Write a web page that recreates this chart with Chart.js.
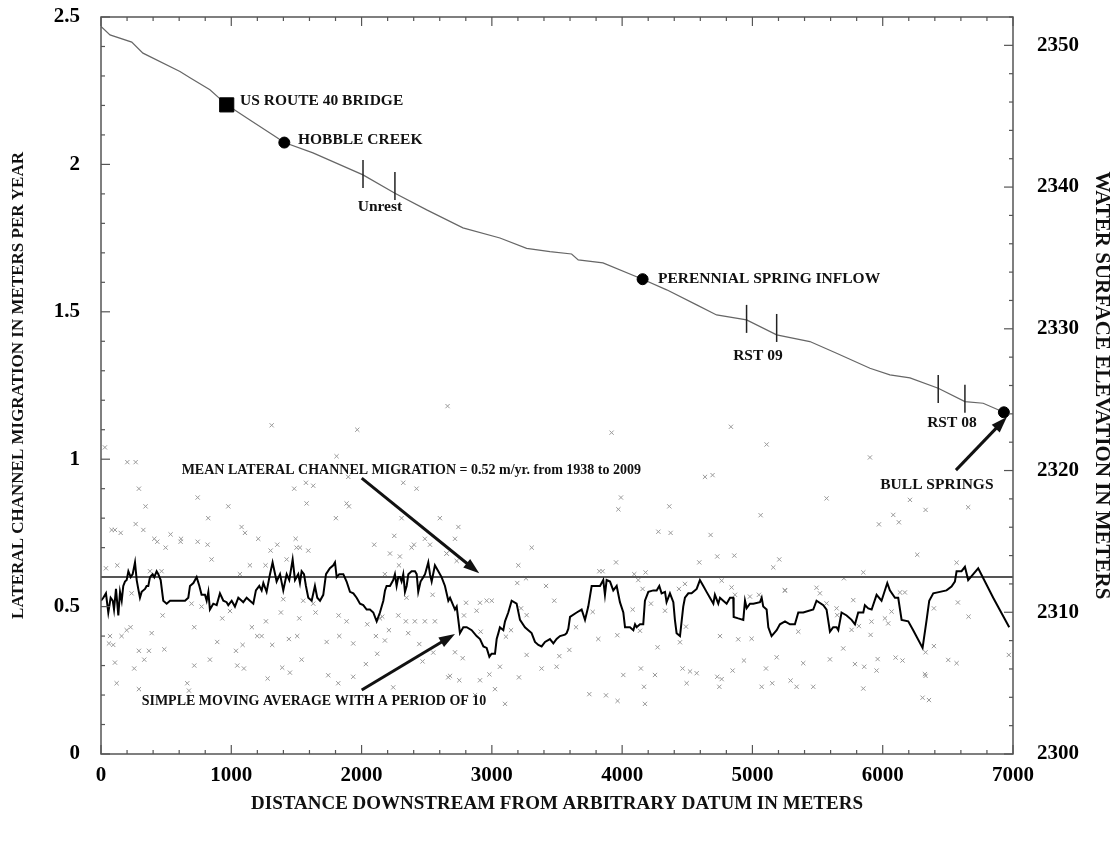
<!DOCTYPE html>
<html>
<head>
<meta charset="utf-8">
<script src="https://cdn.jsdelivr.net/npm/chart.js@4.4.1/dist/chart.umd.min.js"></script>
<style>
  body { margin: 0; background: #fff; }
  canvas { display: block; }
</style>
</head>
<body>
<canvas id="chart" width="1117" height="842"></canvas>
<script>
// lateral migration measurements (distance m, rate m/yr)
const migrationDist = [
  30, 202, 266, 291, 342, 82, 107, 151, 266, 325, 409, 432, 496, 534, 614, 611, 742, 742, 818, 823,
  849, 977, 1079, 1105, 1207, 1310, 1302, 1353, 1494, 1527, 1591, 1483, 1573, 1629, 1578, 1803, 1885, 1903, 1808, 1967,
  1898, 2097, 2251, 2294, 2384, 2402, 2486, 2525, 2320, 2422, 2601, 2652, 2660, 2307, 38, 125, 235, 376, 465, 1066,
  1143, 1263, 1425, 1501, 2179, 2287, 2218, 2545, 2345, 473, 227, 197, 158, 69, 61, 94, 389, 291, 368, 486,
  332, 107, 255, 120, 291, 662, 675, 716, 716, 695, 772, 836, 892, 931, 990, 1036, 1087, 1158, 1199, 1233,
  1266, 1314, 1381, 1399, 1442, 1506, 1522, 1540, 1552, 1629, 1647, 1732, 1824, 1829, 1885, 1936, 2044, 2110, 2120, 2141,
  2159, 2179, 2210, 2243, 2282, 2340, 2358, 2409, 2443, 2468, 2486, 2550, 2563, 2665, 1046, 1097, 1391, 1450, 1279, 1821,
  1744, 1936, 2033,
  3919, 4835, 5109, 4636, 4694, 3991, 3971, 4362, 5063, 4278, 4372, 4679, 2743, 2717, 2653, 2730, 3306, 3953, 3203, 3195,
  3262, 3416, 3479, 3825, 3850, 4093, 4180, 4124, 4157, 4081, 4221, 4329, 4436, 4482, 4592, 4730, 4861, 4764, 4840, 4866,
  4981, 5206, 5160, 5250, 2802, 2909, 2960, 2999, 2883, 2786, 2914, 3108, 3147, 3224, 3267, 3646, 3774, 3595, 3518, 3497,
  3382, 3267, 3208, 3062, 2981, 3024, 2909, 2871, 2750, 2679, 2776, 2717, 3101, 3748, 3876, 3965, 4175, 4168, 4009, 4144,
  4252, 4272, 3817, 3963, 4137, 4490, 4444, 4464, 4521, 4572, 4495, 4730, 4764, 4746, 4751, 4848, 4891, 4935, 4994, 5071,
  5104, 5152, 5050, 5186,
  5902, 5569, 6209, 6329, 6081, 6124, 5971, 6656, 6265, 5851, 6567, 5702, 5249, 5492, 5518, 5569, 5646, 5651, 5774, 5817,
  5761, 6068, 6017, 6042, 6132, 6170, 5914, 5907, 6577, 6659, 6393, 5352, 5697, 5595, 5787, 5858, 5961, 5953, 6099, 6152,
  5390, 5293, 5339, 5467, 5851, 6329, 6393, 6503, 6567, 6324, 6329, 6306, 6355, 6968
];
const migrationRate = [
  1.04, 0.99, 0.99, 0.90, 0.84, 0.76, 0.76, 0.75, 0.78, 0.76, 0.73, 0.72, 0.70, 0.745, 0.73, 0.72, 0.72, 0.87, 0.71, 0.80,
  0.66, 0.84, 0.77, 0.75, 0.73, 1.115, 0.69, 0.71, 0.73, 0.70, 0.69, 0.90, 0.92, 0.91, 0.85, 0.80, 0.85, 0.84, 1.01, 1.10,
  0.94, 0.71, 0.74, 0.67, 0.70, 0.71, 0.73, 0.71, 0.92, 0.90, 0.80, 0.68, 1.18, 0.80, 0.63, 0.64, 0.545, 0.62, 0.62, 0.61,
  0.64, 0.64, 0.66, 0.70, 0.61, 0.64, 0.68, 0.54, 0.53, 0.47, 0.43, 0.42, 0.40, 0.40, 0.375, 0.37, 0.41, 0.35, 0.35, 0.355,
  0.32, 0.31, 0.29, 0.24, 0.22, 0.24, 0.215, 0.30, 0.43, 0.51, 0.50, 0.32, 0.38, 0.46, 0.485, 0.35, 0.37, 0.43, 0.40, 0.40,
  0.45, 0.37, 0.48, 0.525, 0.39, 0.40, 0.46, 0.32, 0.52, 0.51, 0.48, 0.38, 0.47, 0.40, 0.45, 0.375, 0.44, 0.40, 0.34, 0.46,
  0.466, 0.385, 0.42, 0.226, 0.47, 0.45, 0.41, 0.45, 0.373, 0.314, 0.45, 0.344, 0.45, 0.26, 0.30, 0.29, 0.293, 0.276, 0.256, 0.24,
  0.267, 0.262, 0.305,
  1.09, 1.11, 1.05, 0.94, 0.946, 0.87, 0.83, 0.84, 0.81, 0.754, 0.75, 0.743, 0.77, 0.73, 0.68, 0.655, 0.70, 0.65, 0.64, 0.58,
  0.596, 0.57, 0.52, 0.62, 0.62, 0.61, 0.616, 0.59, 0.56, 0.49, 0.51, 0.486, 0.56, 0.577, 0.65, 0.67, 0.673, 0.588, 0.565, 0.54,
  0.534, 0.66, 0.633, 0.554, 0.513, 0.513, 0.52, 0.52, 0.486, 0.47, 0.415, 0.398, 0.42, 0.494, 0.471, 0.43, 0.482, 0.353, 0.332, 0.296,
  0.29, 0.336, 0.26, 0.296, 0.27, 0.22, 0.25, 0.20, 0.25, 0.265, 0.325, 0.345, 0.17, 0.203, 0.199, 0.18, 0.17, 0.228, 0.268, 0.29,
  0.268, 0.362, 0.39, 0.403, 0.418, 0.432, 0.379, 0.29, 0.28, 0.274, 0.24, 0.262, 0.254, 0.228, 0.40, 0.283, 0.389, 0.317, 0.391, 0.228,
  0.29, 0.24, 0.54, 0.328,
  1.006, 0.867, 0.862, 0.828, 0.811, 0.786, 0.779, 0.837, 0.676, 0.616, 0.649, 0.596, 0.556, 0.564, 0.545, 0.511, 0.494, 0.471, 0.522, 0.434,
  0.421, 0.483, 0.46, 0.443, 0.548, 0.548, 0.449, 0.404, 0.514, 0.466, 0.494, 0.415, 0.358, 0.321, 0.305, 0.296, 0.322, 0.283, 0.327, 0.317,
  0.308, 0.249, 0.228, 0.228, 0.222, 0.345, 0.366, 0.319, 0.308, 0.271, 0.265, 0.191, 0.183, 0.336
];

// simple moving average, period 10
const maDist = [
  0, 18, 38, 56, 74, 90, 100, 115, 133, 146, 159, 171, 184, 197, 210, 228, 243, 261, 274, 286,
  299, 312, 338, 350, 363, 376, 396, 409, 427, 440, 458, 478, 504, 530, 555, 593, 645, 670, 683, 709,
  734, 755, 772, 798, 811, 824, 836, 862, 888, 913, 939, 964, 977, 1003, 1028, 1054, 1080, 1092, 1118, 1143,
  1169, 1189, 1215, 1233, 1246, 1271, 1297, 1317, 1348, 1374, 1399, 1425, 1445, 1471, 1489, 1514, 1527, 1540, 1558, 1573,
  1591, 1617, 1642, 1660, 1681, 1706, 1727, 1757, 1783, 1796, 1809, 1829, 1860, 1885, 1911, 1937, 1962, 1988, 2013, 2039,
  2064, 2090, 2116, 2141, 2167, 2180, 2192, 2218, 2243, 2256, 2269, 2282, 2295, 2307, 2320, 2333, 2346, 2359, 2384, 2410,
  2423, 2435, 2453, 2474, 2487, 2512, 2525, 2538, 2563, 2589, 2614, 2640, 2666, 2679, 2717, 2730, 2755, 2781, 2807, 2845,
  2883, 2909, 2935, 2960, 2981, 2998, 3024, 3037, 3050, 3062, 3088, 3101, 3126, 3152, 3190, 3216, 3254, 3280, 3305, 3331,
  3357, 3382, 3408, 3446, 3472, 3497, 3523, 3561, 3574, 3587, 3600, 3651, 3689, 3715, 3740, 3766, 3804, 3830, 3855, 3868,
  3881, 3907, 3932, 3958, 3983, 4009, 4022, 4060, 4086, 4099, 4111, 4137, 4162, 4175, 4201, 4239, 4265, 4285, 4303, 4329,
  4341, 4367, 4393, 4405, 4418, 4444, 4469, 4482, 4508, 4533, 4572, 4597, 4623, 4648, 4674, 4700, 4712, 4738, 4751, 4776,
  4802, 4828, 4853, 4856, 4891, 4930, 4943, 4956, 4981, 5007, 5058, 5071, 5083, 5109, 5122, 5147, 5186, 5211, 5250, 5288,
  5326, 5352, 5390, 5467, 5492, 5544, 5569, 5595, 5620, 5646, 5659, 5684, 5723, 5761, 5787, 5812, 5851, 5863, 5889, 5915,
  5953, 5991, 6035, 6055, 6094, 6119, 6145, 6196, 6234, 6306, 6337, 6357, 6388, 6439, 6490, 6528, 6554, 6567, 6605, 6631,
  6656, 6695, 6733, 6848, 6971
];
const maRate = [
  0.52, 0.53, 0.545, 0.48, 0.53, 0.52, 0.49, 0.56, 0.47, 0.55, 0.52, 0.57, 0.585, 0.59, 0.62, 0.60, 0.61, 0.65, 0.59, 0.56,
  0.53, 0.55, 0.56, 0.57, 0.57, 0.60, 0.61, 0.60, 0.62, 0.61, 0.59, 0.52, 0.51, 0.52, 0.52, 0.52, 0.52, 0.53, 0.57, 0.58,
  0.60, 0.57, 0.54, 0.54, 0.52, 0.55, 0.49, 0.51, 0.505, 0.545, 0.52, 0.515, 0.505, 0.52, 0.50, 0.53, 0.52, 0.515, 0.53, 0.52,
  0.51, 0.555, 0.57, 0.555, 0.58, 0.55, 0.61, 0.65, 0.585, 0.61, 0.555, 0.61, 0.59, 0.66, 0.59, 0.61, 0.58, 0.62, 0.61, 0.57,
  0.53, 0.52, 0.57, 0.53, 0.52, 0.54, 0.61, 0.63, 0.64, 0.65, 0.60, 0.61, 0.61, 0.585, 0.55, 0.545, 0.53, 0.51, 0.505, 0.49,
  0.49, 0.48, 0.45, 0.48, 0.52, 0.555, 0.57, 0.57, 0.59, 0.61, 0.57, 0.60, 0.60, 0.585, 0.61, 0.55, 0.57, 0.61, 0.62, 0.62,
  0.61, 0.55, 0.585, 0.60, 0.61, 0.65, 0.61, 0.585, 0.64, 0.62, 0.60, 0.57, 0.52, 0.53, 0.49, 0.50, 0.41, 0.43, 0.43, 0.42,
  0.40, 0.39, 0.365, 0.36, 0.33, 0.34, 0.34, 0.39, 0.41, 0.43, 0.42, 0.45, 0.48, 0.52, 0.51, 0.455, 0.43, 0.42, 0.41, 0.38,
  0.37, 0.365, 0.38, 0.39, 0.375, 0.39, 0.40, 0.405, 0.41, 0.425, 0.465, 0.48, 0.49, 0.455, 0.50, 0.57, 0.57, 0.57, 0.59, 0.54,
  0.59, 0.585, 0.555, 0.57, 0.515, 0.48, 0.43, 0.43, 0.42, 0.44, 0.43, 0.44, 0.44, 0.52, 0.55, 0.555, 0.555, 0.57, 0.545, 0.55,
  0.515, 0.545, 0.515, 0.455, 0.41, 0.40, 0.50, 0.53, 0.545, 0.545, 0.56, 0.59, 0.57, 0.55, 0.53, 0.51, 0.54, 0.51, 0.53, 0.52,
  0.51, 0.53, 0.53, 0.465, 0.46, 0.455, 0.52, 0.495, 0.51, 0.51, 0.515, 0.53, 0.50, 0.49, 0.43, 0.40, 0.42, 0.44, 0.45, 0.44,
  0.44, 0.48, 0.48, 0.49, 0.52, 0.505, 0.49, 0.415, 0.43, 0.43, 0.42, 0.48, 0.47, 0.455, 0.44, 0.48, 0.48, 0.505, 0.494, 0.49,
  0.54, 0.52, 0.58, 0.555, 0.53, 0.53, 0.455, 0.45, 0.42, 0.36, 0.455, 0.52, 0.545, 0.55, 0.555, 0.568, 0.585, 0.62, 0.62, 0.635,
  0.59, 0.61, 0.63, 0.53, 0.43
];

const meanRate = 0.6;

// water surface profile (distance m, elevation m)
const elevDist = [0, 69, 236, 322, 606, 683, 836, 965, 1143, 1320, 1407, 1627, 2011, 2256, 2500, 2778, 3062, 3267, 3446, 3612,
  3663, 3853, 4157, 4342, 4572, 4725, 4955, 5186, 5441, 5646, 5902, 6055, 6209, 6426, 6631, 6771, 6930];
const elevValue = [2351.33, 2350.74, 2350.23, 2349.45, 2348.15, 2347.71, 2346.86, 2345.8, 2344.74, 2343.68, 2343.14, 2342.41,
  2340.86, 2339.57, 2338.39, 2337.12, 2336.41, 2335.68, 2335.45, 2335.28, 2334.86, 2334.65, 2333.5, 2332.75, 2331.69, 2330.98,
  2330.63, 2329.57, 2329.1, 2328.28, 2327.22, 2326.75, 2326.54, 2325.81, 2324.86, 2324.75, 2324.11];

// landmarks on the profile
const bridgeDist = [965];
const bridgeElev = [2345.8];
const springDist = [1407, 4157, 6930];
const springElev = [2343.14, 2333.5, 2324.11];
const reachDist = [2011, 2256, 4955, 5186, 6426, 6631];
const reachElev = [2340.93, 2340.08, 2330.7, 2330.06, 2325.76, 2325.07];

const xTicks = [0, 1000, 2000, 3000, 4000, 5000, 6000, 7000];

// text notes: position in (distance, rate) units
const notes = [
  { text: 'US ROUTE 40 BRIDGE', d: 1067, r: 2.215, align: 'left', size: 15.5 },
  { text: 'HOBBLE CREEK', d: 1512, r: 2.083, align: 'left', size: 15.5 },
  { text: 'Unrest', d: 2141, r: 1.855, align: 'center', size: 15.5 },
  { text: 'PERENNIAL SPRING INFLOW', d: 4275, r: 1.611, align: 'left', size: 15.5 },
  { text: 'RST 09', d: 5042, r: 1.35, align: 'center', size: 15.5 },
  { text: 'RST 08', d: 6531, r: 1.123, align: 'center', size: 15.5 },
  { text: 'BULL SPRINGS', d: 6416, r: 0.912, align: 'center', size: 15.5 },
  { text: 'MEAN LATERAL CHANNEL MIGRATION = 0.52 m/yr. from 1938 to 2009', d: 619, r: 0.963, align: 'left', size: 14 },
  { text: 'SIMPLE MOVING AVERAGE WITH A PERIOD OF 10', d: 312, r: 0.177, align: 'left', size: 14 }
];
const arrows = [
  { from: [6562, 0.963], to: [6953, 1.143] },
  { from: [2001, 0.936], to: [2903, 0.613] },
  { from: [2001, 0.217], to: [2717, 0.407] }
];

const pts = (xs, ys) => xs.map((x, i) => ({ x: x, y: ys[i] }));
const serif = "'Liberation Serif', 'Times New Roman', serif";

const frame = {
    id: 'frame',
    afterDatasetsDraw(chart) {
        const { ctx, chartArea: a, scales } = chart;
        ctx.save();
        ctx.strokeStyle = '#555';
        ctx.lineWidth = 1.5;
        ctx.strokeRect(a.left, a.top, a.right - a.left, a.bottom - a.top);
        ctx.lineWidth = 1.2;
        const mark = (x1, y1, x2, y2) => { ctx.beginPath(); ctx.moveTo(x1, y1); ctx.lineTo(x2, y2); ctx.stroke(); };
        for (let v = 0; v <= 7000; v += 200) {
            const x = scales.x.getPixelForValue(v);
            const len = v % 1000 === 0 ? 9 : 4;
            mark(x, a.bottom, x, a.bottom - len);
            mark(x, a.top, x, a.top + len);
        }
        for (let i = 0; i <= 25; i++) {
            const y = scales.y.getPixelForValue(i / 10);
            mark(a.left, y, a.left + (i % 5 === 0 ? 9 : 4), y);
        }
        for (let v = 2300; v <= 2352; v += 2) {
            const y = scales.y2.getPixelForValue(v);
            mark(a.right, y, a.right - (v % 10 === 0 ? 9 : 4), y);
        }

        ctx.fillStyle = '#111';
        ctx.textBaseline = 'middle';
        notes.forEach(n => {
            ctx.font = `bold ${n.size}px ${serif}`;
            ctx.textAlign = n.align;
            ctx.fillText(n.text, scales.x.getPixelForValue(n.d), scales.y.getPixelForValue(n.r));
        });

        ctx.strokeStyle = '#111';
        arrows.forEach(ar => {
            const x1 = scales.x.getPixelForValue(ar.from[0]), y1 = scales.y.getPixelForValue(ar.from[1]);
            const x2 = scales.x.getPixelForValue(ar.to[0]), y2 = scales.y.getPixelForValue(ar.to[1]);
            const ang = Math.atan2(y2 - y1, x2 - x1);
            const head = 17;
            ctx.lineWidth = 3;
            ctx.beginPath();
            ctx.moveTo(x1, y1);
            ctx.lineTo(x2 - Math.cos(ang) * head * 0.8, y2 - Math.sin(ang) * head * 0.8);
            ctx.stroke();
            ctx.beginPath();
            ctx.moveTo(x2, y2);
            ctx.lineTo(x2 - head * Math.cos(ang - 0.33), y2 - head * Math.sin(ang - 0.33));
            ctx.lineTo(x2 - head * Math.cos(ang + 0.33), y2 - head * Math.sin(ang + 0.33));
            ctx.closePath();
            ctx.fill();
        });
        ctx.restore();
    }
};

const tickFont = { family: serif, size: 21, weight: 'bold' };
// fixed box sizes so the plot area sits where the original has it
const fixBox = (w, h) => s => {
    if (w) s.width = w;
    if (h) s.height = h;
    s.paddingTop = 0; s.paddingBottom = 0; s.paddingLeft = 0; s.paddingRight = 0;
};

new Chart(document.getElementById('chart'), {
    type: 'scatter',
    data: {
        datasets: [
            {
                data: pts(bridgeDist, bridgeElev), yAxisID: 'y2',
                pointStyle: 'rect', pointRadius: 10, backgroundColor: '#000', borderColor: '#000'
            },
            {
                data: pts(springDist, springElev), yAxisID: 'y2',
                pointStyle: 'circle', pointRadius: 5.5, backgroundColor: '#000', borderColor: '#000'
            },
            {
                data: pts(reachDist, reachElev), yAxisID: 'y2',
                pointStyle: 'line', rotation: 90, pointRadius: 14, borderColor: '#222', borderWidth: 1.5
            },
            {
                data: pts(elevDist, elevValue), yAxisID: 'y2', showLine: true,
                borderColor: '#666', borderWidth: 1.2, pointRadius: 0
            },
            {
                data: pts(maDist, maRate), yAxisID: 'y', showLine: true,
                borderColor: '#000', borderWidth: 2, pointRadius: 0
            },
            {
                data: [{ x: 0, y: meanRate }, { x: 7000, y: meanRate }], yAxisID: 'y', showLine: true,
                borderColor: '#555', borderWidth: 2, pointRadius: 0
            },
            {
                data: pts(migrationDist, migrationRate), yAxisID: 'y',
                pointStyle: 'crossRot', pointRadius: 3, borderColor: '#999', borderWidth: 1
            }
        ]
    },
    options: {
        responsive: false,
        animation: false,
        layout: { padding: { top: 17, left: 0, right: 0, bottom: 0 } },
        plugins: { legend: { display: false }, tooltip: { enabled: false } },
        scales: {
            x: {
                type: 'linear', min: 0, max: 7000,
                afterFit: fixBox(0, 88),
                afterBuildTicks: s => { s.ticks = xTicks.map(v => ({ value: v })); },
                grid: { display: false, drawTicks: false },
                border: { display: false },
                ticks: { font: tickFont, color: '#000', padding: 9, maxRotation: 0, callback: v => String(v) },
                title: {
                    display: true, text: 'DISTANCE DOWNSTREAM FROM ARBITRARY DATUM IN METERS',
                    font: { family: serif, size: 19, weight: 'bold' }, color: '#111', padding: { top: 0, bottom: 27 }
                }
            },
            y: {
                type: 'linear', position: 'left', min: 0, max: 2.5,
                afterFit: fixBox(101, 0),
                grid: { display: false, drawTicks: false },
                border: { display: false },
                ticks: { stepSize: 0.5, font: tickFont, color: '#000', padding: 21, callback: v => String(v) },
                title: {
                    display: true, text: 'LATERAL CHANNEL MIGRATION IN METERS PER YEAR',
                    font: { family: serif, size: 17, weight: 'bold' }, color: '#111', padding: { top: 8, bottom: 0 }
                }
            },
            y2: {
                type: 'linear', position: 'right', min: 2300, max: 2352,
                afterFit: fixBox(104, 0),
                grid: { display: false, drawTicks: false },
                border: { display: false },
                ticks: { stepSize: 10, includeBounds: false, font: tickFont, color: '#000', padding: 24, callback: v => String(v) },
                title: {
                    display: true, text: 'WATER SURFACE ELEVATION IN METERS',
                    font: { family: serif, size: 21, weight: 'bold' }, color: '#111', padding: { top: 3, bottom: 0 }
                }
            }
        }
    },
    plugins: [frame]
});
</script>
</body>
</html>
